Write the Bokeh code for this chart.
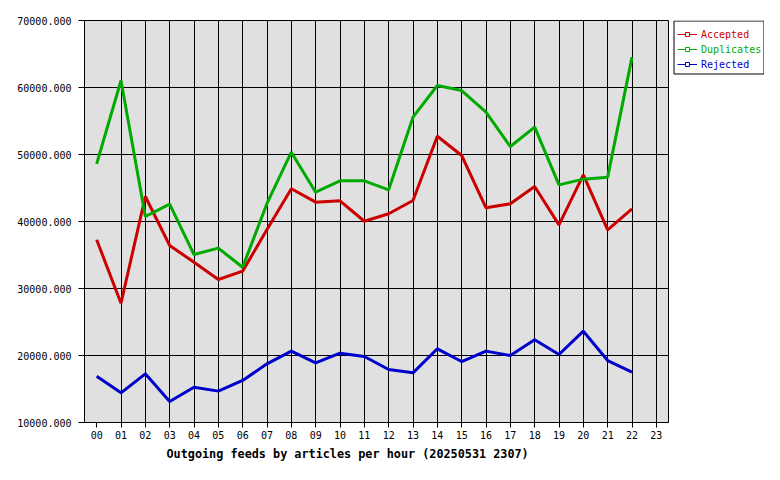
from bokeh.plotting import figure
from bokeh.layouts import row
from bokeh.models import (Legend, LegendItem, FactorRange, Range1d, PrintfTickFormatter,
                          FixedTicker, Title, BoxAnnotation)
from bokeh.embed import file_html
from bokeh.resources import INLINE

hours = ["00", "01", "02", "03", "04", "05", "06", "07", "08", "09", "10", "11",
         "12", "13", "14", "15", "16", "17", "18", "19", "20", "21", "22", "23"]
accepted = [37270, 27800, 43730, 36420, 33930, 31340, 32590, 38800, 44880, 42890, 43090, 40040,
            41150, 43130, 52730, 49850, 42040, 42640, 45220, 39500, 46970, 38760, 41890]
duplicates = [48610, 61040, 40750, 42590, 35070, 36020, 33180, 42700, 50340, 44370, 46070, 46070,
              44730, 55570, 60300, 59550, 56320, 51190, 54080, 45470, 46320, 46620, 64530]
rejected = [16910, 14430, 17260, 13130, 15270, 14680, 16270, 18760, 20650, 18910, 20350, 19850,
            17910, 17410, 21000, 19100, 20650, 20000, 22340, 20150, 23630, 19250, 17510]
series_names = ["Accepted", "Duplicates", "Rejected"]
series_colors = ["#cc0000", "#00aa00", "#0000cc"]
y_ticks = [10000, 20000, 30000, 40000, 50000, 60000, 70000]
title_text = "Outgoing feeds by articles per hour (20250531 2307)"

MONO = "DejaVu Sans Mono"

p = figure(width=670, height=464, output_backend="svg", toolbar_location=None,
           x_range=FactorRange(*hours, range_padding=0),
           y_range=Range1d(y_ticks[0], y_ticks[-1]),
           min_border_left=84, min_border_right=2, min_border_top=20, min_border_bottom=42)

p.background_fill_color = "#e0e0e0"
p.border_fill_color = "white"
p.outline_line_color = "black"
p.outline_line_width = 1

p.xgrid.grid_line_color = "black"
p.ygrid.grid_line_color = "black"
p.xgrid.grid_line_alpha = 1
p.ygrid.grid_line_alpha = 1

p.yaxis.ticker = FixedTicker(ticks=y_ticks)
p.yaxis.formatter = PrintfTickFormatter(format="%.3f")
for ax in (p.xaxis[0], p.yaxis[0]):
    ax.axis_line_color = "black"
    ax.major_tick_line_color = "black"
    ax.minor_tick_line_color = None
    ax.major_tick_in = 0
    ax.major_label_text_font = MONO
    ax.major_label_text_font_size = "10px"
    ax.major_label_text_color = "black"
p.yaxis.major_tick_out = 6
p.yaxis.major_label_standoff = 7
p.xaxis.major_tick_out = 5
p.xaxis.major_label_standoff = 3

data = [accepted, duplicates, rejected]
for name, col, vals in zip(series_names, series_colors, data):
    p.line(hours[:len(vals)], vals, line_color=col, line_width=3)

t = Title(text=title_text, align="left", offset=82, text_font=MONO, text_font_size="11.8px",
          text_font_style="bold", text_color="black", standoff=6)
p.add_layout(t, "below")

# legend panel (its frame is aligned with the chart frame: y 20..422)
lf = figure(width=94, height=464, output_backend="svg", toolbar_location=None,
            x_axis_type=None, y_axis_type=None, x_range=Range1d(0, 1), y_range=Range1d(0, 1),
            min_border=0, min_border_left=0, min_border_right=0, min_border_top=0, min_border_bottom=0)
lf.outline_line_color = None
lf.background_fill_color = "white"
lf.border_fill_color = "white"

row_locs = [382.5, 367.5, 352.5]
for name, col, vals, vy in zip(series_names, series_colors, data, row_locs):
    idx = list(range(len(vals)))
    # same series, drawn thin for the legend key; values lie far outside this panel's 0..1 range
    lr = lf.line(idx, vals, line_color=col, line_width=1)
    sr = lf.scatter(idx, vals, marker="square", size=4, line_color=col, fill_color="white", line_width=1)
    leg = Legend(items=[LegendItem(label=name, renderers=[lr, sr])], location=(7, vy),
                 border_line_alpha=0, background_fill_alpha=0, padding=0, margin=0,
                 glyph_width=20, glyph_height=10, label_standoff=4, label_height=10, spacing=0,
                 label_text_font=MONO, label_text_font_size="10px", label_text_color=col)
    lf.add_layout(leg)

box = BoxAnnotation(left=3.5, right=93.5, top=20.5, bottom=73.5,
                    left_units="canvas", right_units="canvas", top_units="canvas", bottom_units="canvas",
                    fill_alpha=0, line_color="black", line_width=1, line_alpha=1)
lf.add_layout(box)

layout = row(p, lf)
open("out.html", "w").write(file_html(layout, INLINE))
